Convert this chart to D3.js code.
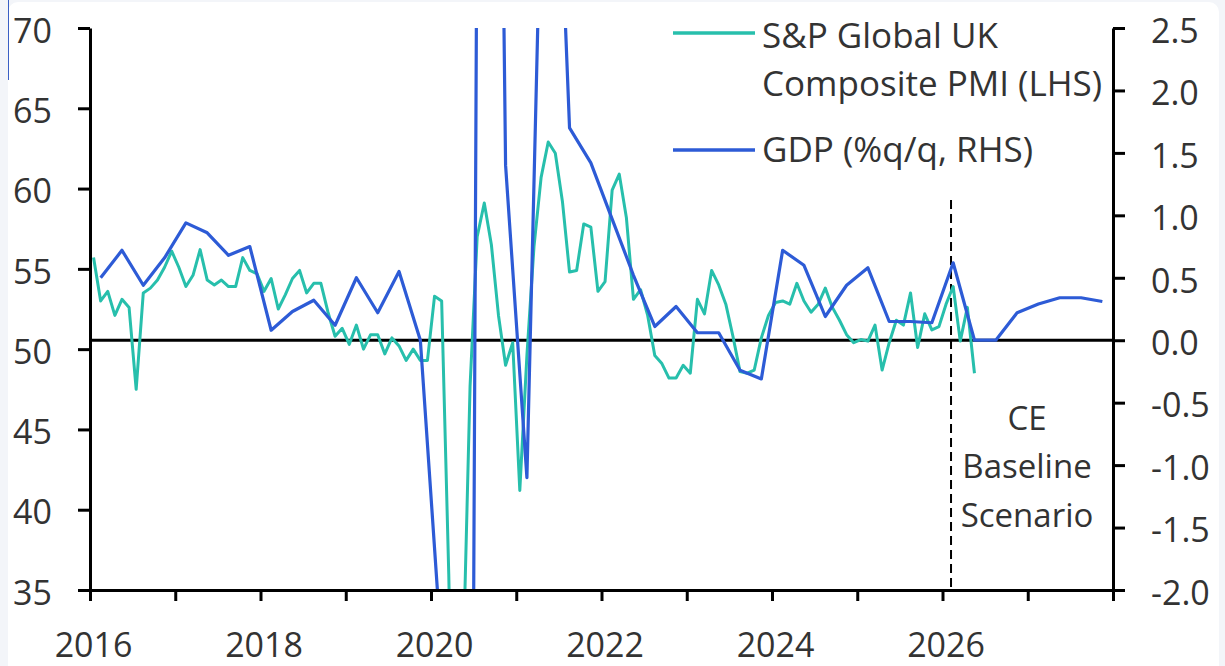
<!DOCTYPE html>
<html>
<head>
<meta charset="utf-8">
<script src="https://cdn.jsdelivr.net/npm/d3@7"></script>
<style>
  html, body { margin: 0; padding: 0; background: #f3f5f9; }
  svg { display: block; }
  text { font-family: "Open Sans", "Noto Sans", sans-serif; }
</style>
</head>
<body>
<svg id="chart" width="1225" height="666"></svg>
<script>
// ---------------- DATA ----------------
// S&P Global UK Composite PMI, monthly, Jan 2016 .. May 2026 (LHS)
const pmiStartYear = 2016;
const pmiValues = [
  55.7, 53.0, 53.6, 52.1, 53.1, 52.6, 47.5, 53.5, 53.8, 54.3, 55.1, 56.1, // 2016
  55.1, 53.9, 54.6, 56.2, 54.3, 54.0, 54.3, 53.9, 53.9, 55.7, 54.9, 54.7, // 2017
  53.6, 54.4, 52.5, 53.4, 54.4, 54.9, 53.5, 54.1, 54.1, 52.3, 50.8, 51.3, // 2018
  50.3, 51.5, 50.0, 50.9, 50.9, 49.7, 50.7, 50.2, 49.3, 50.0, 49.3, 49.3, // 2019
  53.3, 53.0, 36.0, 13.8, 30.0, 47.7, 57.0, 59.1, 56.5, 52.1, 49.0, 50.4, // 2020
  41.2, 49.6, 56.4, 60.7, 62.9, 62.2, 59.2, 54.8, 54.9, 57.8, 57.6, 53.6, // 2021
  54.2, 59.9, 60.9, 58.2, 53.1, 53.7, 52.1, 49.6, 49.1, 48.2, 48.2, 49.0, // 2022
  48.5, 53.1, 52.2, 54.9, 54.0, 52.8, 50.8, 48.6, 48.5, 48.7, 50.7, 52.1, // 2023
  52.9, 53.0, 52.8, 54.1, 53.0, 52.3, 52.8, 53.8, 52.6, 51.8, 50.9, 50.4, // 2024
  50.6, 50.5, 51.5, 48.7, 50.4, 51.8, 51.5, 53.5, 50.1, 52.2, 51.2, 51.4, // 2025
  52.8, 53.9, 50.5, 52.6, 48.5                                            // 2026
];

// GDP %q/q, quarterly, Q1 2016 .. Q4 2027 (RHS; from Q2 2026 = CE baseline forecast)
const gdpStartYear = 2016;
const gdpValues = [
  0.50, 0.72, 0.44, 0.66,    // 2016
  0.94, 0.86, 0.68, 0.75,    // 2017
  0.08, 0.23, 0.32, 0.12,    // 2018
  0.50, 0.22, 0.55, 0.00,    // 2019
  -2.5, -20.3, 16.0, 1.4,    // 2020
  -1.1, 6.0, 1.7, 1.42,      // 2021
  0.97, 0.52, 0.11, 0.27,    // 2022
  0.06, 0.06, -0.24, -0.31,  // 2023
  0.72, 0.60, 0.19, 0.44,    // 2024
  0.58, 0.15, 0.15, 0.14,    // 2025
  0.62, 0.00, 0.00, 0.22,    // 2026
  0.29, 0.34, 0.34, 0.31     // 2027
];

const leftTicks = [35, 40, 45, 50, 55, 60, 65, 70];
const rightTicks = [-2.0, -1.5, -1.0, -0.5, 0.0, 0.5, 1.0, 1.5, 2.0, 2.5];
const xTicks = [2016, 2017, 2018, 2019, 2020, 2021, 2022, 2023, 2024, 2025, 2026, 2027, 2028];
const xTickLabels = [2016, 2018, 2020, 2022, 2024, 2026];
const forecastStart = 2026.1;

const legendLabels = [["S&P Global UK", "Composite PMI (LHS)"], ["GDP (%q/q, RHS)"]];
const annotationLines = ["CE", "Baseline", "Scenario"];

// ---------------- LAYOUT ----------------
const W = 1225, H = 666;
const plotL = 90, plotR = 1113, plotT = 28, plotB = 590;
const tealColor = "#27bfac";
const blueColor = "#2d5bd6";
const textColor = "#333333";

const svg = d3.select("#chart");

// page background card
svg.append("rect").attr("x", 0).attr("y", 0).attr("width", W).attr("height", H).attr("fill", "#f3f5f9");
svg.append("rect").attr("x", 8).attr("y", 2).attr("width", 1211).attr("height", 700).attr("rx", 10).attr("fill", "#ffffff");
svg.append("line").attr("x1", 8.5).attr("x2", 8.5).attr("y1", 0).attr("y2", 80)
  .attr("stroke", "#3a5fc4").attr("stroke-width", 1);

const x = d3.scaleLinear().domain([2016, 2028]).range([plotL, plotR]);
const yL = d3.scaleLinear().domain([35, 70]).range([plotB, plotT]);
const yR = d3.scaleLinear().domain([-2, 2.5]).range([plotB, plotT]);

svg.append("defs").append("clipPath").attr("id", "plotClip")
  .append("rect").attr("x", plotL).attr("y", plotT).attr("width", plotR - plotL).attr("height", plotB - plotT);

// build series
const pmiData = pmiValues.map((v, i) => ({ t: pmiStartYear + (i + 0.5) / 12, v }));
const gdpData = gdpValues.map((v, i) => ({ t: gdpStartYear + 0.125 + 0.25 * i, v }));

// zero line (RHS 0)
svg.append("line")
  .attr("x1", plotL).attr("x2", plotR)
  .attr("y1", yR(0)).attr("y2", yR(0))
  .attr("stroke", "#000").attr("stroke-width", 3);

// dashed forecast divider
svg.append("line")
  .attr("x1", x(forecastStart)).attr("x2", x(forecastStart))
  .attr("y1", 200).attr("y2", plotB)
  .attr("stroke", "#000").attr("stroke-width", 2)
  .attr("stroke-dasharray", "9,5");

const plot = svg.append("g").attr("clip-path", "url(#plotClip)");

plot.append("path")
  .datum(pmiData)
  .attr("fill", "none")
  .attr("stroke", tealColor)
  .attr("stroke-width", 3)
  .attr("stroke-linejoin", "round")
  .attr("d", d3.line().x(d => x(d.t)).y(d => yL(d.v)));

plot.append("path")
  .datum(gdpData)
  .attr("fill", "none")
  .attr("stroke", blueColor)
  .attr("stroke-width", 3.2)
  .attr("stroke-linejoin", "round")
  .attr("d", d3.line().x(d => x(d.t)).y(d => yR(d.v)));

// axes
function styleAxis(g) {
  g.select(".domain").attr("stroke", "#000").attr("stroke-width", 3);
  g.selectAll(".tick line").attr("stroke", "#000").attr("stroke-width", 3);
  g.selectAll(".tick text").attr("fill", textColor).style("font-size", "34px")
    .style("font-family", "'Open Sans', 'Noto Sans', sans-serif");
}

const gLeft = svg.append("g").attr("transform", `translate(${plotL},0)`)
  .call(d3.axisLeft(yL).tickValues(leftTicks).tickSize(12).tickSizeOuter(0).tickFormat(d => String(d)));
styleAxis(gLeft);
gLeft.selectAll(".tick text").attr("x", -38).attr("dy", "0.42em");

const gRight = svg.append("g").attr("transform", `translate(${plotR},0)`)
  .call(d3.axisRight(yR).tickValues(rightTicks).tickSize(12).tickSizeOuter(0).tickFormat(d => d.toFixed(1)));
styleAxis(gRight);
gRight.selectAll(".tick text").attr("x", 38).attr("dy", "0.42em");

const gBottom = svg.append("g").attr("transform", `translate(0,${plotB})`)
  .call(d3.axisBottom(x).tickValues(xTicks).tickSize(11).tickSizeOuter(0)
    .tickFormat(d => xTickLabels.includes(d) ? String(d) : ""));
styleAxis(gBottom);
gBottom.selectAll(".tick text").attr("y", 67).attr("dy", 0).attr("x", 3);

// legend
const legendX1 = 673, legendX2 = 755, legendTextX = 762;
svg.append("line").attr("x1", legendX1).attr("x2", legendX2).attr("y1", 33).attr("y2", 33)
  .attr("stroke", tealColor).attr("stroke-width", 3.5);
svg.append("line").attr("x1", legendX1).attr("x2", legendX2).attr("y1", 150).attr("y2", 150)
  .attr("stroke", blueColor).attr("stroke-width", 3.5);

const legendBaselines = [[48, 96], [162]];
legendLabels.forEach((lines, i) => {
  lines.forEach((s, j) => {
    svg.append("text").attr("x", legendTextX).attr("y", legendBaselines[i][j])
      .attr("fill", textColor).style("font-size", "35px").text(s);
  });
});

// annotation
const annBaselines = [430, 478, 527];
annotationLines.forEach((s, i) => {
  svg.append("text").attr("x", 1027).attr("y", annBaselines[i])
    .attr("text-anchor", "middle").attr("fill", textColor).style("font-size", "33px").text(s);
});
</script>
</body>
</html>
